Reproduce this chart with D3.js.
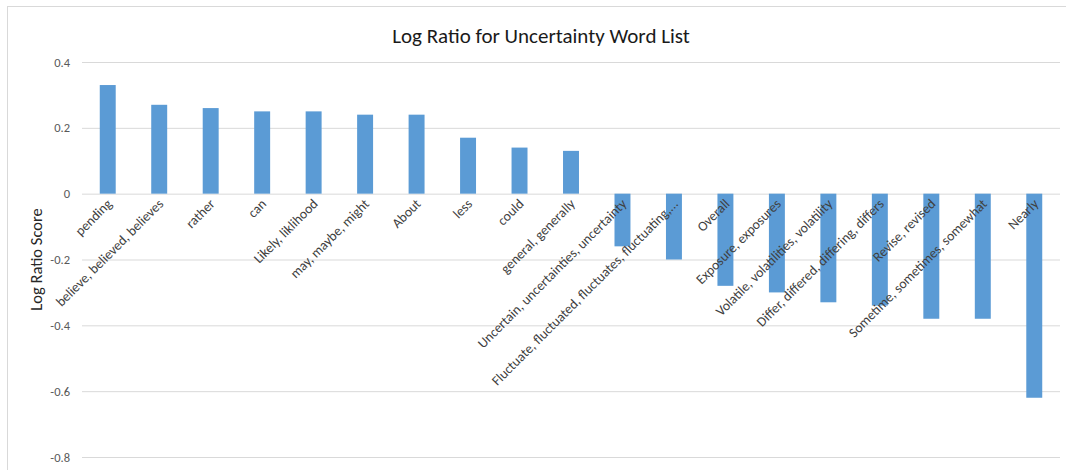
<!DOCTYPE html>
<html>
<head>
<meta charset="utf-8">
<script src="https://cdn.jsdelivr.net/npm/d3@7"></script>
<style>
  html, body { margin: 0; padding: 0; background: #ffffff; }
  svg { display: block; }
</style>
</head>
<body>
<svg id="chart" width="1066" height="470"></svg>
<script>
// Word groups from the uncertainty word list, in chart order
const categories = [
  "pending",
  "believe, believed, believes",
  "rather",
  "can",
  "Likely, liklihood",
  "may, maybe, might",
  "About",
  "less",
  "could",
  "general, generally",
  "Uncertain, uncertainties, uncertainty",
  "Fluctuate, fluctuated, fluctuates, fluctuating,...",
  "Overall",
  "Exposure, exposures",
  "Volatile, volatilities, volatility",
  "Differ, differed, differing, differs",
  "Revise, revised",
  "Sometime, sometimes, somewhat",
  "Nearly"
];

// Log ratio score for each group
const scores = [
  0.33, 0.27, 0.26, 0.25, 0.25, 0.24, 0.24, 0.17, 0.14, 0.13,
  -0.16, -0.20, -0.28, -0.30, -0.33, -0.34, -0.38, -0.38, -0.62
];

const yTicks = [0.4, 0.2, 0, -0.2, -0.4, -0.6, -0.8];
const yTickLabels = ["0.4", "0.2", "0", "-0.2", "-0.4", "-0.6", "-0.8"];

const titleText = "Log Ratio for Uncertainty Word List";
const yAxisTitle = "Log Ratio Score";

const FONT = "Carlito, Calibri, Lato, 'Open Sans', sans-serif";

const svg = d3.select("#chart");

// chart frame
svg.append("rect")
  .attr("x", 7.5).attr("y", 6.5)
  .attr("width", 1080).attr("height", 480)
  .attr("fill", "#ffffff")
  .attr("stroke", "#d9d9d9")
  .attr("stroke-width", 1);

const plot = { left: 82, right: 1060, top: 62, bottom: 457 };

const x = d3.scaleBand()
  .domain(categories)
  .range([plot.left, plot.right])
  .paddingInner(0.69)
  .paddingOuter(0.345);

const y = d3.scaleLinear()
  .domain([-0.8, 0.4])
  .range([plot.bottom, plot.top]);

// horizontal gridlines and value labels
const yAxis = d3.axisLeft(y)
  .tickValues(yTicks)
  .tickSize(-(plot.right - plot.left))
  .tickPadding(12)
  .tickFormat((d, i) => yTickLabels[i]);

const gy = svg.append("g")
  .attr("transform", `translate(${plot.left},0)`)
  .call(yAxis);
gy.select(".domain").remove();
gy.selectAll(".tick line")
  .attr("stroke", "#d9d9d9")
  .attr("stroke-width", 1);
gy.selectAll(".tick text")
  .attr("fill", "#595959")
  .style("font-family", FONT)
  .style("font-size", "12.5px");

// bars
svg.append("g")
  .selectAll("rect")
  .data(categories)
  .join("rect")
  .attr("x", d => x(d))
  .attr("width", x.bandwidth())
  .attr("y", (d, i) => y(Math.max(0, scores[i])))
  .attr("height", (d, i) => Math.abs(y(scores[i]) - y(0)))
  .attr("fill", "#5b9bd5");

// category labels, rotated, just under the zero line
const zeroY = y(0);
svg.append("g")
  .selectAll("text")
  .data(categories)
  .join("text")
  .attr("transform", d => `translate(${x(d) + x.bandwidth() / 2 + 5},${zeroY + 11}) rotate(-45)`)
  .attr("text-anchor", "end")
  .attr("fill", "#404040")
  .style("font-family", FONT)
  .style("font-size", "13.7px")
  .text(d => d);

// title
svg.append("text")
  .attr("x", 541)
  .attr("y", 43)
  .attr("text-anchor", "middle")
  .attr("fill", "#1a1a1a")
  .style("font-family", FONT)
  .style("font-size", "21px")
  .text(titleText);

// y axis title
svg.append("text")
  .attr("transform", `translate(42,${(plot.top + plot.bottom) / 2}) rotate(-90)`)
  .attr("text-anchor", "middle")
  .attr("fill", "#262626")
  .style("font-family", FONT)
  .style("font-size", "16.5px")
  .text(yAxisTitle);
</script>
</body>
</html>
